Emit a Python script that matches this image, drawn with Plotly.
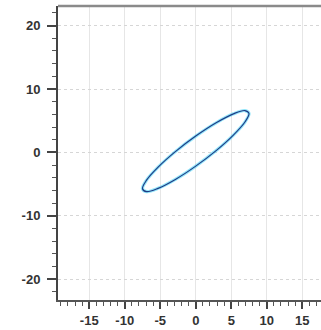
import plotly.graph_objects as go

# Closed orbit traced in the x-y plane (points along the loop)
orbit_x = [0.0, 2.87, 5.30, 6.93, 7.50, 6.93, 5.30, 2.87, 0.0,
           -2.87, -5.30, -6.93, -7.50, -6.93, -5.30, -2.87, 0.0]
orbit_y = [2.57, 4.67, 6.08, 6.60, 6.14, 4.79, 2.73, 0.28, -2.17,
           -4.27, -5.68, -6.20, -5.74, -4.39, -2.33, 0.12, 2.57]

x_tick_vals = [-15, -10, -5, 0, 5, 10, 15]
x_tick_text = ["-15", "-10", "-5", "0", "5", "10", "15"]
y_tick_vals = [-20, -10, 0, 10, 20]
y_tick_text = ["-20", "-10", "0", "10", "20"]

fig = go.Figure()
# soft cyan halo under the main trace
fig.add_trace(go.Scatter(x=orbit_x, y=orbit_y, mode="lines",
                         line=dict(color="rgba(60,210,245,0.55)", width=3.2, shape="spline"),
                         hoverinfo="skip", showlegend=False))
fig.add_trace(go.Scatter(x=orbit_x, y=orbit_y, mode="lines",
                         line=dict(color="#1f3c86", width=1.2, shape="spline"),
                         showlegend=False))

tick_font = dict(family="Liberation Sans, Arial, sans-serif", size=13,
                 color="#333333", weight="bold")

fig.update_layout(
    width=321, height=330,
    margin=dict(l=58, r=0, t=6, b=30),
    paper_bgcolor="white", plot_bgcolor="white",
    xaxis=dict(range=[-19.4, 17.64], tickvals=x_tick_vals, ticktext=x_tick_text,
               ticks="outside", ticklen=7, tickwidth=1.5, tickcolor="#444444",
               showline=True, linecolor="#555555", linewidth=2, mirror=False,
               showgrid=True, gridcolor="#e6e6e6", gridwidth=1,
               zeroline=False, tickfont=tick_font,
               minor=dict(dtick=1, ticks="outside", ticklen=4, tickwidth=1.2,
                          tickcolor="#555555", showgrid=False)),
    yaxis=dict(range=[-23.3, 23.1], tickvals=y_tick_vals, ticktext=y_tick_text,
               ticks="outside", ticklen=9, tickwidth=1.5, tickcolor="#444444",
               showline=True, linecolor="#444444", linewidth=2, mirror=False,
               showgrid=True, gridcolor="#d6d6d6", gridwidth=1, griddash="dot",
               zeroline=False, tickfont=tick_font, ticklabelstandoff=4,
               minor=dict(dtick=2, ticks="outside", ticklen=4, tickwidth=1.2,
                          tickcolor="#555555", showgrid=False)),
)

# top frame line
fig.add_shape(type="line", xref="paper", yref="paper", x0=0, x1=1, y0=1, y1=1,
              line=dict(color="#8a8a8a", width=2.5))

fig.write_html("out.html")
